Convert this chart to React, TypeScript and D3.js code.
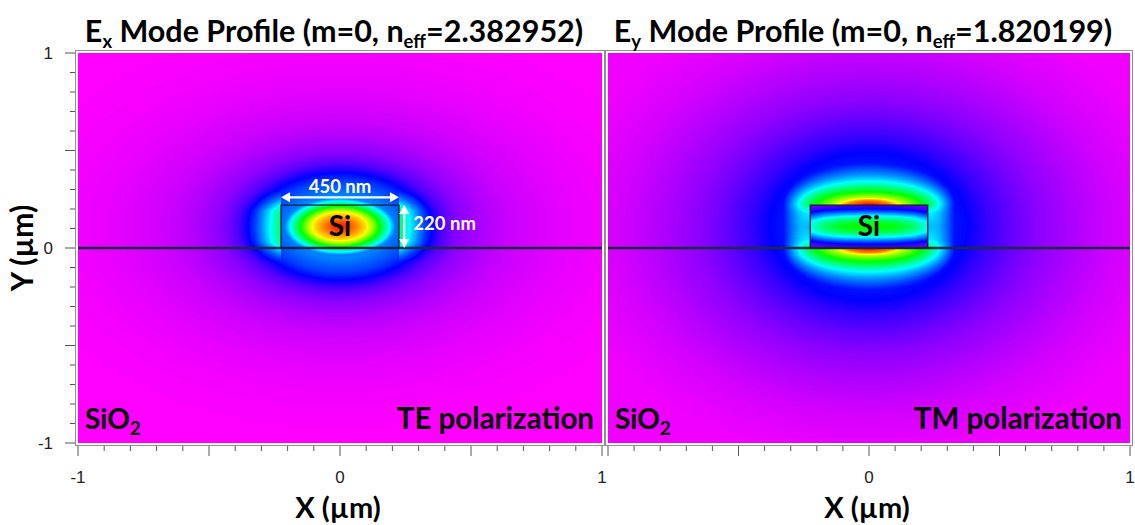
import React, { useMemo } from 'react'
import * as d3 from 'd3'

// axis ticks (µm)
const majorTicks = [-1, -0.5, 0, 0.5, 1]
const minorTicks = [-0.9, -0.8, -0.7, -0.6, -0.4, -0.3, -0.2, -0.1, 0.1, 0.2, 0.3, 0.4, 0.6, 0.7, 0.8, 0.9]
const yTickLabels = [1, 0, -1]
const xTickLabelsLeft = [-1, 0, 1]
const xTickLabelsRight = [0, 1]

// waveguide core (µm)
const coreX = [-0.225, 0.225]
const coreY = [0, 0.22]

// colour map: normalised |E| -> colour
const colorStops = [0, 0.2, 0.4, 0.6, 0.8, 1]
const colorRamp = ['#ff00ff', '#0000ff', '#00ffff', '#00ff00', '#ffff00', '#ff0000']

// TE (Ex) profile, distance from core centre (µm) -> level
const teInnerR = [0, 0.06, 0.1, 0.125, 0.15, 0.17, 0.19, 0.21, 0.226, 0.25, 0.29, 0.34, 0.4, 0.5, 0.65, 0.85, 1.1]
const teInnerV = [1, 0.9, 0.82, 0.72, 0.6, 0.5, 0.4, 0.3, 0.22, 0.2, 0.17, 0.13, 0.1, 0.06, 0.03, 0.01, 0]
const teHaloR = [0.2, 0.28, 0.33, 0.39, 0.46, 0.56, 0.66, 0.85, 1.05, 1.3]
const teHaloV = [0.3, 0.25, 0.2, 0.13, 0.09, 0.06, 0.04, 0.02, 0.008, 0]
const teSideDx = [0, 0.04, 0.1, 0.2]
const teSideGain = [1.85, 1.55, 1.2, 1]
const teSideDy = [0, 0.08, 0.13, 0.18]
const teSideWeight = [1, 1, 0.4, 0]

// TM (Ey) profile
const tmCoreXd = [0, 0.1, 0.17, 0.226]
const tmCoreXv = [1, 0.96, 0.85, 0.68]
const tmCoreYd = [0, 0.03, 0.055, 0.075, 0.09, 0.11]
const tmCoreYv = [0.62, 0.55, 0.4, 0.28, 0.2, 0.15]
const tmLobeR = [0, 0.08, 0.13, 0.2, 0.24, 0.27, 0.3, 0.33, 0.4, 0.5, 0.7, 0.9]
const tmLobeV = [1, 0.9, 0.75, 0.6, 0.5, 0.4, 0.3, 0.2, 0.12, 0.07, 0.03, 0.01]
const tmAspR = [0, 0.13, 0.2, 0.27, 0.33, 0.45, 0.7]
const tmAspV = [3.4, 3.4, 2.9, 2.2, 1.45, 1.15, 1.0]
const tmSideDy = [0, 0.07, 0.11]
const tmSideV = [0.62, 0.72, 1]
const tmWallDx = [0, 0.04, 0.1]
const tmWallV = [1, 0.5, 0]
const tmHaloR = [0, 0.3, 0.38, 0.45, 0.55, 0.65, 0.8, 0.95, 1.15, 1.45]
const tmHaloV = [0.22, 0.22, 0.2, 0.16, 0.12, 0.09, 0.06, 0.035, 0.015, 0]

const lin = (d: number[], r: number[]) => d3.scaleLinear().domain(d).range(r).clamp(true)

const cx = (coreX[0] + coreX[1]) / 2
const cy = (coreY[0] + coreY[1]) / 2
const hw = (coreX[1] - coreX[0]) / 2
const hh = (coreY[1] - coreY[0]) / 2

const teInner = lin(teInnerR, teInnerV)
const teHalo = lin(teHaloR, teHaloV)
const teGain = lin(teSideDx, teSideGain)
const teWeight = lin(teSideDy, teSideWeight)
function teField(x: number, y: number) {
  const dx = x - cx
  const dy = y - cy
  let v = Math.max(
    teInner(Math.sqrt(dx * dx + 2.1 * dy * dy)),
    teHalo(Math.sqrt(dx * dx + 1.44 * dy * dy))
  )
  const ax = Math.abs(dx)
  if (ax > hw) v *= 1 + (teGain(ax - hw) - 1) * teWeight(Math.abs(dy))
  return v
}

const tmCx = lin(tmCoreXd, tmCoreXv)
const tmCy = lin(tmCoreYd, tmCoreYv)
const tmLobe = lin(tmLobeR, tmLobeV)
const tmAsp = lin(tmAspR, tmAspV)
const tmSide = lin(tmSideDy, tmSideV)
const tmWall = lin(tmWallDx, tmWallV)
const tmHalo = lin(tmHaloR, tmHaloV)
function tmField(x: number, y: number) {
  const dx = x - cx
  const dy = y - cy
  const ax = Math.abs(dx)
  const ay = Math.abs(dy)
  if (ax < hw && ay < hh) return tmCx(ax) * tmCy(ay)
  const t = Math.max(ay - hh, 0)
  // elliptical distance from the face centre, aspect taken from the picture's contours
  let rho = Math.sqrt(ax * ax + 6 * t * t)
  for (let k = 0; k < 8; k++) {
    const a = tmAsp(rho) * t
    rho = 0.5 * rho + 0.5 * Math.sqrt(ax * ax + a * a)
  }
  let lobe = tmLobe(rho)
  if (ay < hh && ax >= hw) lobe *= 1 - (1 - tmSide(ay)) * tmWall(ax - hw)
  return Math.max(lobe, tmHalo(Math.sqrt(dx * dx + dy * dy)))
}

const colorScale = d3
  .scaleLinear<string>()
  .domain(colorStops)
  .range(colorRamp)
  .interpolate(d3.interpolateRgb)
  .clamp(true)
const lut = d3.range(256).map(i => d3.rgb(colorScale(i / 255)))

function fieldImage(x: d3.ScaleLinear<number, number>, y: d3.ScaleLinear<number, number>, f: (a: number, b: number) => number) {
  const [x0, x1] = x.range()
  const [y0, y1] = y.range()
  const w = Math.round(x1 - x0)
  const h = Math.round(y1 - y0)
  const canvas = document.createElement('canvas')
  canvas.width = w
  canvas.height = h
  const ctx = canvas.getContext('2d')!
  const img = ctx.createImageData(w, h)
  for (let j = 0; j < h; j++) {
    const yv = y.invert(y0 + j + 0.5)
    for (let i = 0; i < w; i++) {
      const v = f(x.invert(x0 + i + 0.5), yv)
      const c = lut[Math.max(0, Math.min(255, Math.round(v * 255)))]
      const k = (j * w + i) * 4
      img.data[k] = c.r
      img.data[k + 1] = c.g
      img.data[k + 2] = c.b
      img.data[k + 3] = 255
    }
  }
  ctx.putImageData(img, 0, 0)
  return canvas.toDataURL()
}

const BOLD = "Lato, 'Open Sans', sans-serif"
const TICK = "'Liberation Sans', Arial, sans-serif"

function Panel({ x, y, f, title, sub, neff, pol }: any) {
  const url = useMemo(() => fieldImage(x, y, f), [])
  const [l, r] = x.range()
  const [t, b] = y.range()
  const mid = x(0)
  return (
    <g>
      <rect x={l - 2.5} y={t - 2.5} width={r - l + 5} height={b - t + 5} fill="#fff" stroke="#8f8f8f" strokeWidth={1} />
      <image href={url} x={l} y={t} width={r - l} height={b - t} preserveAspectRatio="none" />
      <line x1={l} x2={r} y1={y(0)} y2={y(0)} stroke="#1c2a45" strokeWidth={2.4} />
      <rect x={x(coreX[0])} y={y(coreY[1])} width={x(coreX[1]) - x(coreX[0])} height={y(coreY[0]) - y(coreY[1])}
        fill="none" stroke="#1a2233" strokeWidth={1.3} />
      <text x={mid} y={y(cy) + 9} textAnchor="middle" fontFamily={BOLD} fontWeight={700} fontSize={28} fill="#000">Si</text>
      <text x={l + 7} y={429} fontFamily={BOLD} fontWeight={700} fontSize={28} fill="#000">
        SiO<tspan fontSize={19} dy={6}>2</tspan>
      </text>
      <text x={r - 8} y={429} textAnchor="end" fontFamily={BOLD} fontWeight={700} fontSize={29.5} fill="#000">{pol}</text>
      <text x={mid - 6} y={42} textAnchor="middle" fontFamily={BOLD} fontWeight={700} fontSize={30.5} fill="#000">
        {title}<tspan fontSize={18.5} dy={6}>{sub}</tspan>
        <tspan dy={-6}> Mode Profile (m=0, n</tspan>
        <tspan fontSize={18.5} dy={6}>eff</tspan>
        <tspan dy={-6}>={neff})</tspan>
      </text>
      {/* x ticks */}
      {majorTicks.map(v => (
        <line key={'M' + v} x1={x(v)} x2={x(v)} y1={b + 3} y2={b + 13} stroke="#555" strokeWidth={1} />
      ))}
      {minorTicks.map(v => (
        <line key={'m' + v} x1={x(v)} x2={x(v)} y1={b + 3} y2={b + 8} stroke="#555" strokeWidth={1} />
      ))}
      <text x={mid - 2} y={518} textAnchor="middle" fontFamily={BOLD} fontWeight={700} fontSize={29} fill="#000">X (µm)</text>
    </g>
  )
}

export default function App() {
  const yScale = d3.scaleLinear().domain([1, -1]).range([53, 443])
  const xLeft = d3.scaleLinear().domain([-1, 1]).range([78, 602])
  const xRight = d3.scaleLinear().domain([-1, 1]).range([608, 1130])
  const l = xLeft.range()[0]
  return (
    <svg width={1135} height={525} style={{ position: 'absolute', left: 0, top: 0, background: '#fff' }}>
      <Panel x={xLeft} y={yScale} f={teField} title="E" sub="x" neff="2.382952" pol="TE polarization" />
      <Panel x={xRight} y={yScale} f={tmField} title="E" sub="y" neff="1.820199" pol="TM polarization" />

      {/* TE dimension arrows */}
      <g stroke="#fff" strokeWidth={2.2} fill="#fff">
        <line x1={xLeft(coreX[0]) + 6} x2={xLeft(coreX[1]) - 6} y1={yScale(0.26)} y2={yScale(0.26)} />
        <path d={`M${xLeft(coreX[0])},${yScale(0.26)} l9,-5 l0,10 Z`} strokeWidth={0} />
        <path d={`M${xLeft(coreX[1])},${yScale(0.26)} l-9,-5 l0,10 Z`} strokeWidth={0} />
        <line x1={xLeft(0.245)} x2={xLeft(0.245)} y1={yScale(coreY[1]) + 6} y2={yScale(coreY[0]) - 6} />
        <path d={`M${xLeft(0.245)},${yScale(coreY[1])} l-5,9 l10,0 Z`} strokeWidth={0} />
        <path d={`M${xLeft(0.245)},${yScale(coreY[0])} l-5,-9 l10,0 Z`} strokeWidth={0} />
      </g>
      <text x={xLeft(0)} y={yScale(0.282)} textAnchor="middle" fontFamily={BOLD} fontWeight={700} fontSize={18.5} fill="#fff">450 nm</text>
      <text x={xLeft(0.28)} y={yScale(0.09)} fontFamily={BOLD} fontWeight={700} fontSize={18.5} fill="#fff">220 nm</text>

      {/* y axis */}
      {majorTicks.map(v => (
        <line key={'YM' + v} x1={l - 13} x2={l - 3} y1={yScale(v)} y2={yScale(v)} stroke="#555" strokeWidth={1} />
      ))}
      {minorTicks.map(v => (
        <line key={'Ym' + v} x1={l - 8} x2={l - 3} y1={yScale(v)} y2={yScale(v)} stroke="#555" strokeWidth={1} />
      ))}
      {yTickLabels.map(v => (
        <text key={'yl' + v} x={53} y={yScale(v) + 6} textAnchor="end" fontFamily={TICK} fontSize={17} fill="#222">{v}</text>
      ))}
      <text transform={`translate(33,${yScale(0)}) rotate(-90)`} textAnchor="middle" fontFamily={BOLD} fontWeight={700} fontSize={30} fill="#000">Y (µm)</text>

      {xTickLabelsLeft.map(v => (
        <text key={'xl' + v} x={xLeft(v)} y={483} textAnchor="middle" fontFamily={TICK} fontSize={17} fill="#222">{v}</text>
      ))}
      {xTickLabelsRight.map(v => (
        <text key={'xr' + v} x={xRight(v)} y={483} textAnchor="middle" fontFamily={TICK} fontSize={17} fill="#222">{v}</text>
      ))}
    </svg>
  )
}
